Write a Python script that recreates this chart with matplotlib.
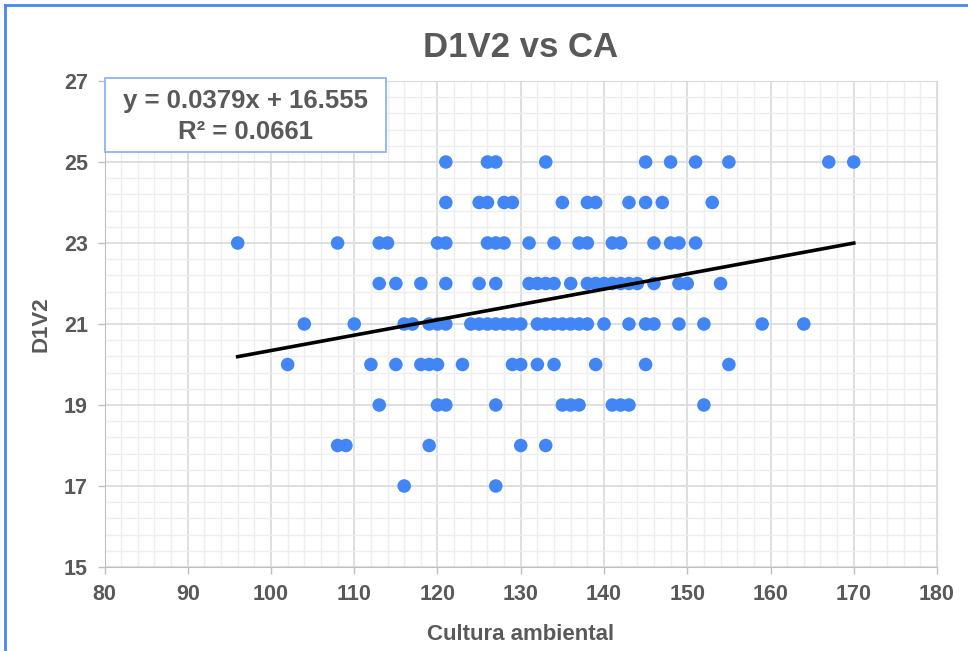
import numpy as np
import matplotlib
matplotlib.use("Agg")
import matplotlib.pyplot as plt
from matplotlib.patches import Rectangle
from matplotlib.lines import Line2D

plt.rcParams['font.family'] = ['Liberation Sans', 'DejaVu Sans']

# Cultura ambiental values, grouped by D1V2 score
rows = {
    25: [121, 126, 127, 133, 145, 148, 151, 155, 167, 170],
    24: [121, 125, 126, 128, 129, 135, 138, 139, 143, 145, 147, 153],
    23: [96, 108, 113, 114, 120, 121, 126, 127, 128, 131, 134, 137, 138,
         141, 142, 146, 148, 149, 151],
    22: [113, 115, 118, 121, 125, 127, 131, 132, 133, 134, 136, 138, 139,
         140, 141, 142, 143, 144, 146, 149, 150, 154],
    21: [104, 110, 116, 117, 119, 120, 121, 124, 125, 126, 127, 128, 129,
         130, 132, 133, 134, 135, 136, 137, 138, 140, 143, 145, 146, 149,
         152, 159, 164],
    20: [102, 112, 115, 118, 119, 120, 123, 129, 130, 132, 134, 139, 145, 155],
    19: [113, 120, 121, 127, 135, 136, 137, 141, 142, 143, 152],
    18: [108, 109, 119, 130, 133],
    17: [116, 127],
}
ca = np.array([x for k in rows for x in rows[k]], dtype=float)
d1v2 = np.array([k for k in rows for x in rows[k]], dtype=float)

slope = 0.0379
intercept = 16.555
r2 = 0.0661

grey = '#595959'
blue = '#4285F4'

fig = plt.figure(figsize=(9.68, 6.51), dpi=100)
ax = fig.add_axes([104.5 / 968, 1 - 567 / 651, (937 - 104.5) / 968, (567 - 81) / 651])

ax.set_xlim(80, 180)
ax.set_ylim(15, 27)
ax.set_xticks(np.arange(80, 181, 10))
ax.set_yticks(np.arange(15, 28, 2))
ax.set_xticks(np.arange(80, 181, 2), minor=True)
ax.set_yticks(np.arange(15, 27.01, 0.4), minor=True)
ax.grid(which='major', color='#d9d9d9', linewidth=1.2)
ax.grid(which='minor', color='#eeeeee', linewidth=1.0)
ax.set_axisbelow(True)
ax.tick_params(which='minor', length=0)
ax.tick_params(which='major', length=5, width=1, color='#bfbfbf', labelcolor=grey,
               labelsize=15.5, pad=7)
for lab in ax.get_xticklabels() + ax.get_yticklabels():
    lab.set_fontweight('bold')
for s in ['left', 'bottom']:
    ax.spines[s].set_color('#bfbfbf')
for s in ['top', 'right']:
    ax.spines[s].set_color('#d9d9d9')

ax.scatter(ca, d1v2, s=95, color=blue, edgecolors='none', zorder=3)

xs = np.array([ca.min(), ca.max()])
ax.plot(xs, slope * xs + intercept, color='black', linewidth=2.6, zorder=4)

ax.set_title('D1V2 vs CA', fontsize=25, fontweight='bold', color=grey, pad=17)
ax.set_xlabel('Cultura ambiental', fontsize=16, fontweight='bold', color=grey, labelpad=14)
ax.set_ylabel('D1V2', fontsize=16, fontweight='bold', color=grey, labelpad=9)

# equation box
fig.patches.append(Rectangle((105 / 968, 1 - 152 / 651), 281 / 968, 74 / 651,
                             transform=fig.transFigure, facecolor='white',
                             edgecolor='#8fb4f0', linewidth=1.3, zorder=5))
fig.text(245 / 968, 1 - 101 / 651, f'y = {slope}x + {intercept}', ha='center', va='center',
         fontsize=18.5, fontweight='bold', color=grey, zorder=6)
fig.text(245 / 968, 1 - 132 / 651, f'R² = {r2}', ha='center', va='center',
         fontsize=18.5, fontweight='bold', color=grey, zorder=6)

# chart frame (selected)
fig.lines.append(Line2D([5 / 968, 1], [1 - 5 / 651, 1 - 5 / 651], transform=fig.transFigure,
                        color='#4a86e8', linewidth=2))
fig.lines.append(Line2D([5 / 968, 5 / 968], [0, 1 - 5 / 651], transform=fig.transFigure,
                        color='#4a86e8', linewidth=2))

fig.savefig('out.png', dpi=100)
